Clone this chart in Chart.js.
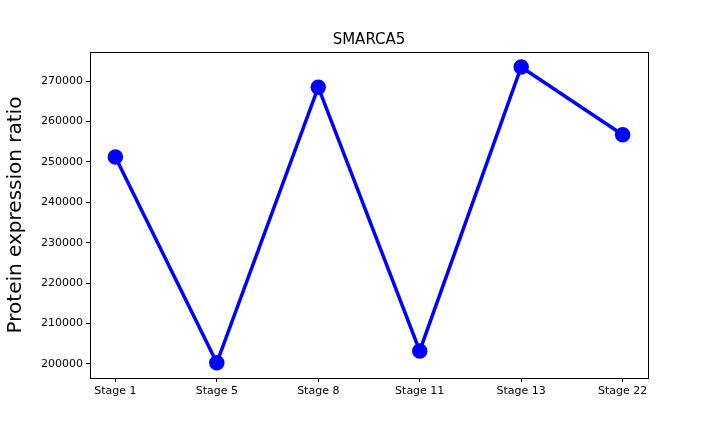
<!DOCTYPE html>
<html><head><meta charset="utf-8">
<script src="https://cdn.jsdelivr.net/npm/chart.js@4"></script>
<style>html,body{margin:0;padding:0;background:#fff}</style>
</head><body>
<div style="width:720px;height:432px"><canvas id="c" width="720" height="432"></canvas></div>
<script>
const categories = ["Stage 1","Stage 5","Stage 8","Stage 11","Stage 13","Stage 22"];
const values = [251200, 200250, 268500, 203200, 273500, 256700];
const title = "SMARCA5";
const yTitle = "Protein expression ratio";

const frame = {
  id: 'frame',
  afterDraw(chart) {
    const {ctx, chartArea: a} = chart;
    ctx.save();
    ctx.strokeStyle = '#000'; ctx.lineWidth = 1;
    ctx.strokeRect(a.left + 0.5, a.top + 0.5, a.right - a.left, a.bottom - a.top);
    ctx.fillStyle = '#000';
    ctx.font = '15px "DejaVu Sans"';
    ctx.textAlign = 'center'; ctx.textBaseline = 'bottom';
    ctx.fillText(title, (a.left + a.right) / 2, a.top - 4);
    ctx.restore();
  }
};

new Chart(document.getElementById('c'), {
  type: 'line',
  data: {
    datasets: [{
      data: values.map((v, i) => ({x: i, y: v})),
      borderColor: '#0000ff', backgroundColor: '#0000ff',
      borderWidth: 3.5, pointRadius: 6, pointHoverRadius: 6, tension: 0
    }]
  },
  options: {
    responsive: false, animation: false,
    layout: {padding: {top: 52, right: 72, left: 0, bottom: 0}},
    plugins: {legend: {display: false}, tooltip: {enabled: false}},
    scales: {
      x: {
        type: 'linear', min: -0.25, max: 5.25,
        afterFit(s) { s.height = 54; },
        afterBuildTicks(s) { s.ticks = categories.map((c, i) => ({value: i})); },
        ticks: {color: '#000', font: {size: 11, family: 'DejaVu Sans'}, maxRotation: 0,
          callback: v => categories[v]},
        grid: {drawOnChartArea: false, tickLength: 4, color: '#000'},
        border: {display: false}
      },
      y: {
        min: 196500, max: 277200,
        afterFit(s) { s.width = 90; },
        afterBuildTicks(s) { const t = []; for (let v = 200000; v <= 270000; v += 10000) t.push({value: v}); s.ticks = t; },
        ticks: {color: '#000', font: {size: 11, family: 'DejaVu Sans'}, callback: v => String(v)},
        grid: {drawOnChartArea: false, tickLength: 4, color: '#000'},
        border: {display: false},
        title: {display: true, text: yTitle, color: '#000', font: {size: 20, family: 'DejaVu Sans'}, padding: 4}
      }
    }
  },
  plugins: [frame]
});
</script>
</body></html>
